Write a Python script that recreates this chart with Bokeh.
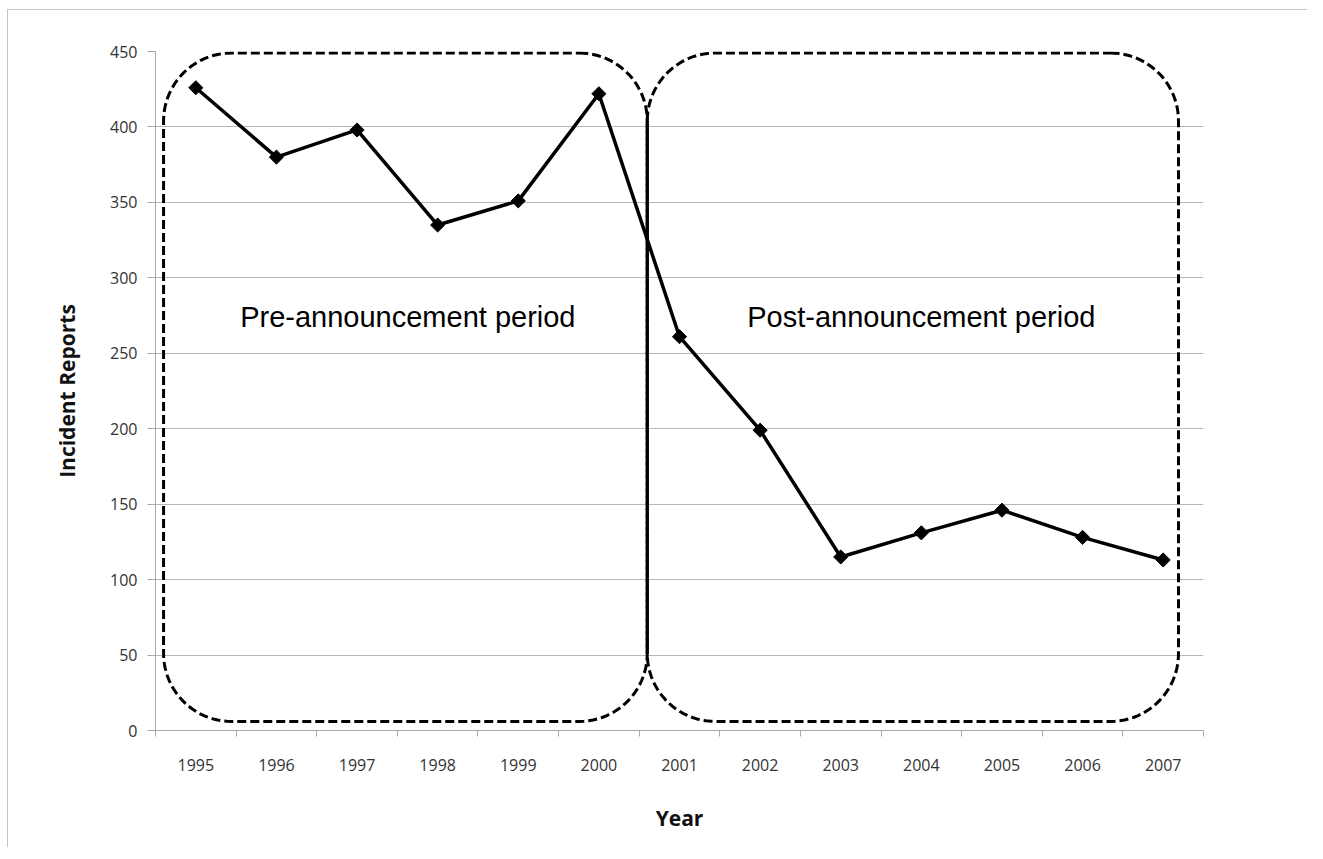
import numpy as np
from bokeh.plotting import figure
from bokeh.models import FixedTicker, Range1d, ColumnDataSource
from bokeh.embed import file_html
from bokeh.resources import INLINE
from bokeh.core.properties import value

# ---------------- data ----------------
years = [1995, 1996, 1997, 1998, 1999, 2000, 2001, 2002, 2003, 2004, 2005, 2006, 2007]
reports = [426, 380, 398, 335, 351, 422, 261, 199, 115, 131, 146, 128, 113]
y_ticks = [0, 50, 100, 150, 200, 250, 300, 350, 400, 450]
x_label = "Year"
y_label = "Incident Reports"
period_names = ["Pre-announcement period", "Post-announcement period"]
period_label_x = [1997.63, 2004.0]
period_label_y = [274, 274]
# period boxes (x in year units, y in report units)
box_left = [1994.6, 2000.6]
box_right = [2000.6, 2007.19]
box_bottom = 6
box_top = 449

# ---------------- layout ----------------
W, H = 1300, 838
ML, MR, MT, MB = 147, 105, 41, 118
x0, x1 = years[0] - 0.5, years[-1] + 0.5
y0, y1 = 0, 450
sx = (W - ML - MR) / (x1 - x0)   # px per year
sy = (H - MT - MB) / (y1 - y0)   # px per report

p = figure(width=W, height=H, output_backend="svg", toolbar_location=None,
           x_range=Range1d(x0, x1), y_range=Range1d(y0, y1),
           min_border_left=ML, min_border_right=MR, min_border_top=MT, min_border_bottom=MB,
           background_fill_color="white", border_fill_color="white")
p.styles = {"border-top": "1px solid #c4c4c4", "border-left": "1px solid #c4c4c4",
            "margin-top": "9px", "margin-left": "7px"}
p.outline_line_color = None

# axes
boundaries = [x0 + i for i in range(len(years) + 1)]
p.xaxis.ticker = FixedTicker(ticks=years, minor_ticks=boundaries)
p.xaxis.major_tick_out = 0
p.xaxis.major_tick_in = 0
p.xaxis.minor_tick_out = 6
p.xaxis.minor_tick_in = 0
p.xaxis.minor_tick_line_color = "#a8a8a8"
p.xaxis.axis_line_color = "#a8a8a8"
p.xaxis.major_label_standoff = 22
p.xaxis.axis_label = x_label
p.xaxis.axis_label_standoff = 30

p.yaxis.ticker = FixedTicker(ticks=y_ticks)
p.yaxis.major_tick_out = 8
p.yaxis.major_tick_in = 0
p.yaxis.major_tick_line_color = "#a8a8a8"
p.yaxis.minor_tick_line_color = None
p.yaxis.axis_line_color = "#a8a8a8"
p.yaxis.major_label_standoff = 10
p.yaxis.axis_label = y_label
p.yaxis.axis_label_standoff = 26

for ax in (p.xaxis, p.yaxis):
    ax.major_label_text_font = "Open Sans"
    ax.major_label_text_font_size = "16px"
    ax.major_label_text_color = "#333333"
    ax.axis_label_text_font = "Open Sans"
    ax.axis_label_text_font_size = "21px"
    ax.axis_label_text_font_style = "bold"
    ax.axis_label_text_color = "#111111"

p.xgrid.visible = False
p.ygrid.ticker = FixedTicker(ticks=y_ticks)
p.ygrid.grid_line_color = "#b8b8b8"
p.ygrid.grid_line_width = 1

# ---------------- period boxes ----------------
def rounded_path(xa, xb, ya, yb, r_px):
    rx, ry = r_px / sx, r_px / sy
    xs, ys = [], []
    corners = [((xb - rx, yb - ry), np.pi / 2, 0.0),
               ((xb - rx, ya + ry), 0.0, -np.pi / 2),
               ((xa + rx, ya + ry), -np.pi / 2, -np.pi),
               ((xa + rx, yb - ry), np.pi, np.pi / 2)]
    for (cx, cy), a0, a1 in corners:
        ang = np.linspace(a0, a1, 24)
        xs.extend(cx + rx * np.cos(ang))
        ys.extend(cy + ry * np.sin(ang))
    xs.append(xs[0]); ys.append(ys[0])
    return xs, ys

R = 68
for xa, xb in zip(box_left, box_right):
    bx, by = rounded_path(xa, xb, box_bottom, box_top, R)
    p.line(bx, by, line_color="black", line_width=3, line_dash="9 4")

# shared edge looks solid where the two dashed edges overlap
p.line([box_right[0], box_right[0]], [box_bottom + R / sy, box_top - R / sy],
       line_color="black", line_width=3)

# ---------------- data series ----------------
src = ColumnDataSource(dict(x=years, y=reports))
p.line("x", "y", source=src, line_color="black", line_width=3.5)
p.scatter("x", "y", source=src, marker="square", angle=np.pi / 4, size=10,
          fill_color="black", line_color="black")

# period labels
p.text(x=period_label_x, y=period_label_y, text=period_names,
       text_font=value("Liberation Sans"), text_font_size="29px",
       text_align="center", text_baseline="middle", text_color="black")

open("out.html", "w").write(file_html(p, INLINE))
